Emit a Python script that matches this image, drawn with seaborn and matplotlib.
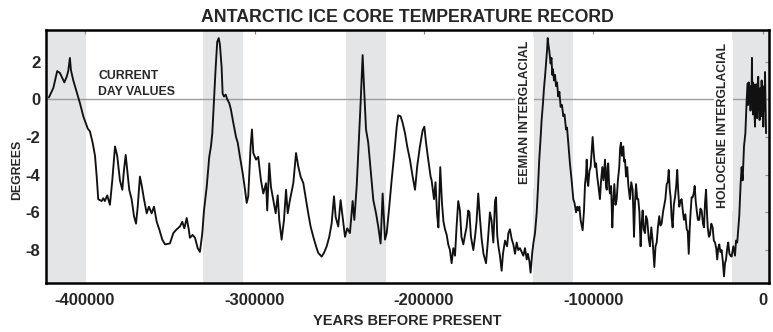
import matplotlib
matplotlib.use("Agg")
import matplotlib.pyplot as plt
import numpy as np
import pandas as pd
import seaborn as sns

# ---------------- data (ages in thousands of years before present, temps in degrees) -------------
age_a_kyr = [-421.3, -418.7, -416.4, -414.8, -412.2, -410.8, -409.9, -408.9, -408.3, -406.9,
             -404.6, -403.0, -401.0, -399.8, -398.4, -397.1, -395.5, -394.1, -393.1, -392.2,
             -390.2, -389.2, -388.3, -386.9, -385.3, -383.9, -382.3, -381.0, -379.4, -378.0,
             -377.0, -376.0, -375.1, -373.9, -372.5, -371.1, -369.9, -368.9, -367.6, -366.6,
             -365.2, -363.6, -362.3, -360.7, -359.3, -357.7, -356.2, -354.4, -352.8, -349.9,
             -347.9, -345.9, -344.0, -342.6, -341.4, -340.0, -338.8, -338.1, -336.5, -335.1,
             -333.5, -332.2, -330.8, -329.8, -328.2, -326.7, -325.7, -324.9, -323.9, -322.9,
             -322.0, -321.1, -320.4, -319.4, -318.8, -318.0, -317.0, -316.1, -314.9, -313.9,
             -312.5, -310.9, -309.9, -308.6, -307.0, -305.6, -304.6, -303.7, -302.3, -301.5]
temp_a = [0.1, 0.6, 1.5, 1.4, 0.9, 1.2, 1.5, 2.2, 1.55, 1.0,
          0.3, -0.2, -0.9, -1.2, -1.55, -1.7, -2.3, -3.0, -4.1, -5.3,
          -5.4, -5.25, -5.4, -5.1, -5.6, -4.3, -2.5, -3.0, -4.3, -4.8,
          -3.75, -2.95, -3.75, -4.8, -5.3, -6.2, -6.6, -5.7, -4.1, -4.55,
          -5.3, -6.05, -5.7, -6.05, -5.7, -6.5, -6.9, -7.45, -7.7, -7.65,
          -7.1, -6.9, -6.75, -6.5, -6.85, -6.3, -6.9, -7.35, -7.2, -7.35,
          -7.9, -8.1, -7.1, -5.9, -4.65, -3.05, -2.5, -1.8, 0.0, 1.7,
          3.05, 3.25, 2.9, 1.7, 0.3, 0.15, 0.25, 0.0, -0.2, -0.55,
          -1.25, -2.0, -2.3, -3.05, -3.9, -4.8, -5.5, -5.15, -2.5, -1.6]

age_b_kyr = [-300.7, -299.1, -297.8, -296.2, -294.8, -293.2, -292.5, -291.3, -290.3, -288.9,
             -287.5, -286.3, -285.4, -284.0, -282.6, -281.4, -280.4, -279.1, -277.1, -275.5,
             -274.2, -272.8, -271.2, -269.6, -268.3, -266.9, -265.3, -263.7, -262.4, -260.4,
             -259.0, -257.4, -255.9, -254.5, -253.1, -252.1, -250.6, -249.2, -248.0, -246.6,
             -245.3, -243.7, -242.1, -241.1, -239.7, -238.8, -237.4, -236.2, -235.4, -234.2,
             -232.9, -231.5, -229.9, -228.3, -227.0, -225.6, -224.4, -223.0, -222.0, -220.5,
             -219.1, -217.5, -216.1, -215.2, -213.8, -212.6, -211.2, -209.9, -208.3, -206.7,
             -205.3, -204.0, -202.4, -200.8, -199.8, -198.8, -197.5, -196.1]
temp_b = [-2.85, -3.2, -3.05, -4.3, -5.0, -4.45, -5.9, -3.4, -4.65, -5.35,
          -6.05, -5.1, -6.4, -7.45, -6.4, -4.8, -6.05, -5.35, -4.45, -2.85,
          -3.55, -4.1, -4.45, -5.35, -6.05, -6.75, -7.3, -7.8, -8.15, -8.35,
          -8.15, -7.8, -7.3, -6.6, -5.15, -6.25, -6.75, -5.35, -6.25, -7.3,
          -6.85, -7.1, -5.4, -6.4, -4.6, -2.9, -0.2, 2.35, 0.7, -1.6,
          -2.3, -3.75, -5.35, -6.05, -6.75, -7.65, -5.0, -7.45, -7.1, -5.7,
          -4.3, -2.85, -1.45, -0.85, -0.9, -1.25, -1.8, -2.5, -3.2, -4.1,
          -4.8, -3.55, -2.5, -1.65, -1.45, -2.3, -3.2, -4.1]

age_c_kyr = [-195.5, -194.1, -193.2, -192.3, -191.5, -190.4, -189.4, -188.5, -187.6, -186.6,
             -185.7, -184.7, -183.7, -182.7, -181.7, -180.8, -179.8, -178.8, -177.9, -176.8,
             -175.8, -174.9, -173.9, -173.2, -172.3, -170.9, -169.9, -169.0, -168.0, -167.0,
             -166.0, -164.9, -163.4, -162.3, -161.1, -160.2, -159.1, -158.1, -157.5, -156.8,
             -156.1, -155.2, -154.2, -153.4, -152.2, -151.0, -150.2, -149.3, -148.3, -147.3,
             -146.3, -145.3, -144.4, -143.4, -142.4, -141.4, -140.4, -139.4, -138.7, -137.8,
             -137.1, -136.1, -135.4, -134.5, -133.5, -132.8, -132.0, -131.3, -130.6]
temp_c = [-4.3, -5.3, -4.4, -6.1, -6.8, -3.6, -5.5, -6.5, -6.9, -7.2,
          -7.7, -8.0, -8.7, -7.9, -8.3, -6.8, -5.4, -5.9, -7.3, -7.7,
          -7.2, -6.8, -5.9, -6.0, -7.3, -8.0, -7.3, -6.5, -5.0, -6.3,
          -7.4, -8.2, -8.7, -7.5, -6.0, -6.4, -7.6, -5.4, -5.2, -7.2,
          -7.8, -8.3, -9.1, -8.2, -7.5, -7.8, -7.1, -6.9, -7.4, -7.7,
          -8.2, -7.6, -8.0, -7.9, -8.1, -8.3, -7.9, -8.5, -8.2, -8.6,
          -9.2, -8.1, -7.6, -7.1, -6.0, -4.8, -3.2, -2.2, -1.1]

age_d_kyr = [-129.8, -129.2, -128.6, -128.0, -127.4, -127.0, -126.6, -126.1, -125.3, -124.8,
             -124.3, -123.9, -123.3, -122.7, -122.1, -121.5, -120.8, -120.1, -119.4, -118.6,
             -117.8, -117.1, -116.2, -115.6, -114.9, -113.9, -112.9, -111.9, -111.2, -110.3,
             -109.6, -109.0, -108.3, -107.6, -106.4, -105.6, -105.0, -104.4, -104.0, -103.5,
             -103.1, -102.4, -101.7, -101.1, -100.5, -99.9, -99.1, -98.5, -97.8, -97.1,
             -96.2, -95.6, -94.8, -94.1, -93.2, -92.6, -92.2, -91.7, -91.3, -90.7,
             -90.3, -89.6, -88.9, -88.3, -87.7, -87.0, -86.3, -85.6, -84.8, -84.3,
             -83.8, -83.2, -82.4, -81.9, -81.4, -80.8, -80.1, -79.4, -78.5, -77.7,
             -76.9, -76.5, -76.1, -75.5, -74.9, -74.2, -73.6, -72.9, -72.2, -71.6,
             -71.0, -70.4, -69.6, -69.0, -68.3, -67.4, -66.7, -65.9, -65.1, -64.6,
             -64.1, -63.4, -62.7, -62.0, -61.2, -60.5, -59.8, -59.0, -58.4, -57.6,
             -56.8, -56.2, -55.6, -55.0, -54.5, -53.9, -53.3, -52.6, -51.9, -51.2,
             -50.6, -50.0, -49.4, -48.7, -48.0, -47.2, -46.6, -45.8, -45.0, -44.4,
             -43.8, -43.2, -42.7, -42.1, -41.5, -40.9, -40.3, -39.7, -39.1, -38.4,
             -37.6, -36.9, -36.2, -35.4, -34.8, -34.2, -33.6, -33.0, -32.6, -31.9,
             -31.3, -30.5, -29.7, -29.0, -28.3, -27.6, -27.0, -26.4, -25.8, -25.1,
             -24.4, -23.7, -23.0, -22.4, -21.8, -21.1, -20.5, -19.8, -19.1, -18.5,
             -17.5, -16.5, -15.9, -15.2, -14.6, -14.0, -13.2, -12.6, -12.0, -11.2,
             -10.4, -9.6]
temp_d = [-0.2, 0.6, 1.2, 1.9, 2.6, 3.25, 2.9, 2.6, 1.9, 2.2,
          1.3, 1.6, 1.0, 1.3, 0.7, 0.9, 0.15, 0.4, -0.4, -0.3,
          -0.9, -0.8, -1.6, -1.5, -2.3, -3.4, -4.3, -5.3, -5.5, -6.0,
          -5.7, -5.9, -5.7, -6.4, -6.95, -5.9, -4.5, -4.0, -3.2, -4.4,
          -4.6, -3.8, -3.6, -2.8, -2.0, -2.8, -3.6, -3.4, -4.1, -4.6,
          -5.3, -4.4, -3.6, -4.3, -3.2, -4.6, -4.8, -3.6, -3.4, -4.7,
          -5.0, -4.6, -6.8, -5.4, -4.5, -5.6, -5.3, -4.3, -3.6, -2.6,
          -2.3, -3.0, -2.5, -3.3, -3.2, -4.1, -3.6, -4.6, -5.3, -4.4,
          -4.8, -5.9, -7.3, -5.5, -4.5, -5.3, -5.3, -6.0, -7.8, -6.6,
          -5.9, -6.9, -7.1, -6.2, -6.4, -7.4, -7.8, -6.8, -7.5, -8.2,
          -8.9, -7.8, -7.6, -6.8, -6.2, -6.7, -6.6, -6.0, -5.7, -5.3,
          -4.5, -4.4, -3.75, -4.8, -5.2, -6.3, -6.8, -5.6, -5.2, -4.6,
          -3.75, -4.9, -5.7, -5.4, -5.3, -6.0, -6.4, -6.1, -6.9, -7.0,
          -8.2, -6.8, -6.0, -5.2, -5.2, -5.0, -4.6, -5.4, -5.9, -6.4,
          -6.4, -5.8, -5.9, -6.6, -6.8, -5.5, -4.8, -6.1, -6.8, -7.3,
          -7.2, -6.6, -6.8, -7.5, -7.6, -7.9, -8.5, -7.9, -7.7, -8.1,
          -8.0, -8.6, -9.4, -8.7, -8.5, -7.9, -7.6, -8.2, -8.3, -8.35,
          -7.8, -8.3, -7.5, -7.6, -6.9, -6.2, -4.5, -3.6, -4.3, -2.5,
          -1.8, 0.0]

# Holocene (dense, noisy)
age_e_kyr = [-9.0, -8.8, -8.6, -8.35, -8.1, -7.85, -7.6, -7.35, -7.1, -6.8,
             -6.5, -6.3, -6.1, -5.9, -5.7, -5.45, -5.2, -4.95, -4.7, -4.45,
             -4.2, -3.95, -3.7, -3.45, -3.2, -3.0, -2.8, -2.5, -2.2, -2.0,
             -1.8, -1.55, -1.3, -1.05, -0.8, -0.55, -0.3, -0.05, 0.2, 0.45,
             0.7, 0.95, 1.2, 1.5, 1.8]
temp_e = [0.85, -0.3, 0.2, 0.9, -0.2, 0.6, 0.5, -0.6, 0.7, -0.1,
          2.2, 0.2, 0.9, -0.8, -0.4, 0.8, 0.3, -0.9, -1.45, 0.4,
          -0.2, 0.8, 0.3, -1.0, -0.6, 0.9, 1.2, -0.3, 0.1, -1.1,
          -0.75, 0.6, 0.5, -0.9, 1.0, -0.2, -0.5, 0.7, -1.45, 0.3,
          0.6, -0.6, 1.45, -0.3, -1.8]

# interglacial periods (kyr before present, start/end)
interglacial_start_kyr = [-424.0, -330.2, -246.0, -135.5, -18.1]
interglacial_end_kyr = [-399.4, -307.0, -222.6, -112.3, 4.0]

x_ticks = [-400000, -300000, -200000, -100000, 0]
y_ticks = [-8, -6, -4, -2, 0, 2]

# ---------------- build table ----------------
ages_years = np.array(age_a_kyr + age_b_kyr + age_c_kyr + age_d_kyr + age_e_kyr) * 1000.0
temps = np.array(temp_a + temp_b + temp_c + temp_d + temp_e)
df = pd.DataFrame({"age": ages_years, "temp": temps})

sns.set_theme(style="white")
plt.rcParams["font.family"] = ["Liberation Sans", "DejaVu Sans"]
plt.rcParams["axes.unicode_minus"] = False

fig = plt.figure(figsize=(7.73, 3.32), dpi=100)
ax = fig.add_axes([0.0591, 0.1476, 0.9357, 0.762])
ax.set_facecolor("white")

for s, e in zip(interglacial_start_kyr, interglacial_end_kyr):
    ax.axvspan(s * 1000, e * 1000, color="#e4e5e7", lw=0, zorder=0.5)

ax.axhline(0, color="#9c9c9c", lw=1.0, zorder=1)

sns.lineplot(data=df, x="age", y="temp", ax=ax, color="#111111", lw=1.35,
             estimator=None, sort=False, zorder=3)

ax.set_xlim(-423200, 3540)
ax.set_ylim(-9.75, 3.68)
ax.set_xticks(x_ticks)
ax.set_xticklabels([str(v) for v in x_ticks])
ax.set_yticks(y_ticks)
ax.set_yticklabels([str(v) for v in y_ticks])
ax.tick_params(direction="in", length=3, width=0.8, color="#8a8a8a",
               top=True, right=True, labelsize=12, pad=4)
ax.tick_params(axis="x", pad=7)
for lab in ax.get_xticklabels() + ax.get_yticklabels():
    lab.set_fontweight("bold")
for sp in ax.spines.values():
    sp.set_visible(True)
    sp.set_color("black")
    sp.set_linewidth(1.8)

ax.set_title("ANTARCTIC ICE CORE TEMPERATURE RECORD", fontsize=12.8,
             fontweight="bold", pad=6)
ax.set_xlabel("YEARS BEFORE PRESENT", fontsize=10.5, fontweight="bold")
ax.xaxis.set_label_coords(0.5, -0.1225)
ax.xaxis.label.set_va("top")
ax.set_ylabel("DEGREES", fontsize=8.8, fontweight="bold")
ax.yaxis.set_label_coords(-0.031, 0.4466)

ax.text(-392200, 1.08, "CURRENT", fontsize=8.8, fontweight="bold",
        ha="left", va="baseline", zorder=2)
ax.text(-392200, 0.23, "DAY VALUES", fontsize=8.8, fontweight="bold",
        ha="left", va="baseline", zorder=2)

box = dict(boxstyle="square,pad=0.28", fc="white", ec="none")
ax.text(-140700, -0.70, "EEMIAN INTERGLACIAL", rotation=90, fontsize=8.8,
        fontweight="bold", ha="center", va="center", bbox=box, zorder=2)
ax.text(-23300, -1.39, "HOLOCENE INTERGLACIAL", rotation=90, fontsize=8.8,
        fontweight="bold", ha="center", va="center", bbox=box, zorder=2)

fig.savefig("out.png", dpi=100)
